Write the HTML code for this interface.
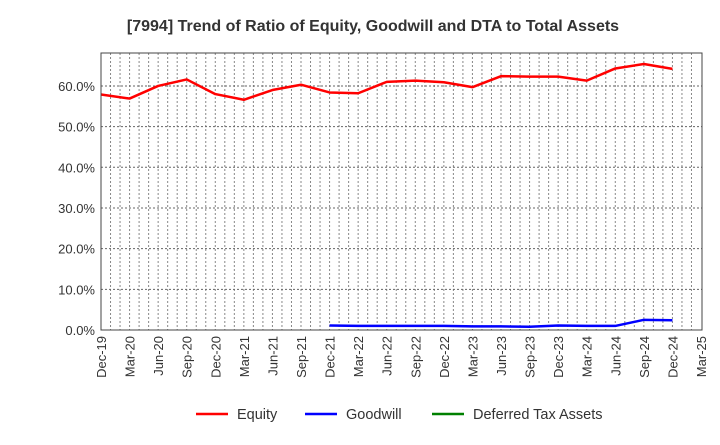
<!DOCTYPE html>
<html><head><meta charset="utf-8"><style>
body{margin:0;background:#fff;font-family:"Liberation Sans",sans-serif;}
</style></head><body>
<svg width="720" height="440" xmlns="http://www.w3.org/2000/svg" font-family="Liberation Sans, sans-serif">
<text x="373" y="31" text-anchor="middle" font-size="16" font-weight="bold" fill="#333">[7994]  Trend of Ratio of Equity, Goodwill and DTA to Total Assets</text>
<g id="grid"></g>
<g id="series"></g>
<g id="axes"></g>
<g id="legend"></g>
</svg>
<script>
const categories=["Dec-19","Mar-20","Jun-20","Sep-20","Dec-20","Mar-21","Jun-21","Sep-21","Dec-21","Mar-22","Jun-22","Sep-22","Dec-22","Mar-23","Jun-23","Sep-23","Dec-23","Mar-24","Jun-24","Sep-24","Dec-24","Mar-25"];
const equity=[57.9,56.9,60.0,61.6,58.0,56.6,59.0,60.3,58.4,58.2,61.0,61.3,60.9,59.7,62.4,62.3,62.3,61.3,64.3,65.4,64.2];
const goodwill=[null,null,null,null,null,null,null,null,1.1,1.0,1.0,1.0,1.0,0.9,0.9,0.8,1.1,1.0,1.0,2.5,2.4];
const dta=[];
const yTicks=[0,10,20,30,40,50,60];
const yTickLabels=["0.0%","10.0%","20.0%","30.0%","40.0%","50.0%","60.0%"];
const NS="http://www.w3.org/2000/svg";
const L=101,R=702,T=53,B=330,YMAX=68.1;
const x=i=>L+(R-L-1)*i/(categories.length-1);
const y=v=>B-(B-T)*v/YMAX;
function mk(tag,attrs,parent){const e=document.createElementNS(NS,tag);for(const k in attrs)e.setAttribute(k,attrs[k]);parent.appendChild(e);return e;}
const grid=document.getElementById('grid'),axes=document.getElementById('axes'),ser=document.getElementById('series'),leg=document.getElementById('legend');
const nMonths=(categories.length-1)*3;
for(let m=1;m<nMonths;m++){const gx=L+(R-L-1)*m/nMonths;const ln=mk('line',{x1:gx,x2:gx,y1:T,y2:B,stroke:'#888','stroke-dasharray':'2,2','stroke-width':1},grid);

}
yTicks.forEach((v,i)=>{if(v>0){const ln=mk('line',{x1:L,x2:R,y1:y(v),y2:y(v),stroke:'#666','stroke-dasharray':'2,2','stroke-width':1},grid);

}
const t=mk('text',{x:L-6,y:y(v)+5,'text-anchor':'end','font-size':13,fill:'#333'},axes);t.textContent=yTickLabels[i];

});
const fr=mk('rect',{x:L,y:T,width:R-L,height:B-T,fill:'none',stroke:'#444','stroke-width':1},axes);


categories.forEach((c,i)=>{const tx=x(i)+5;const t=mk('text',{x:tx,y:B+6,'text-anchor':'end','font-size':13,fill:'#333',transform:`rotate(-90 ${tx} ${B+6})`},axes);t.textContent=c;

});
function line(data,color,name){let d='',pen=false;data.forEach((v,i)=>{if(v==null){pen=false;return;}d+=(pen?'L':'M')+x(i)+','+y(v);pen=true;});
if(!d)return;const p=mk('path',{d:d,fill:'none',stroke:color,'stroke-width':2.5,'stroke-linejoin':'round'},ser);

}
line(equity,'#ff0000','equity-line');line(goodwill,'#0000ff','goodwill-line');line(dta,'#008000','dta-line');
[['Equity','#ff0000',196],['Goodwill','#0000ff',305],['Deferred Tax Assets','#008000',432]].forEach(([n,c,lx])=>{
const g=mk('g',{},leg);


mk('line',{x1:lx,x2:lx+32,y1:414,y2:414,stroke:c,'stroke-width':2.5},g);
const t=mk('text',{x:lx+41,y:419,'font-size':14.5,fill:'#333'},g);t.textContent=n;});
</script>
</body></html>
